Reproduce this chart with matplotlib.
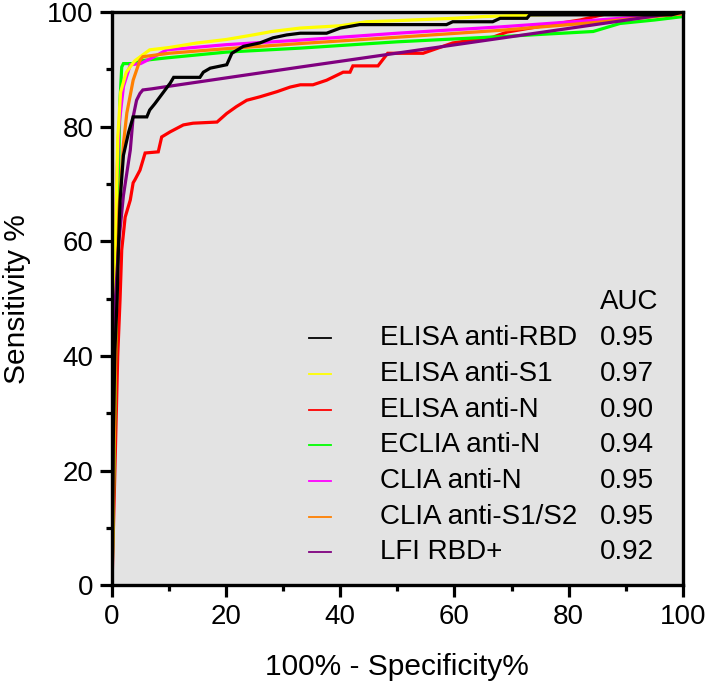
import matplotlib.pyplot as plt
from matplotlib.ticker import MultipleLocator

plt.rcParams['font.family'] = ['Liberation Sans', 'DejaVu Sans']

# ROC curves: x = 100% - Specificity%, y = Sensitivity %
rbd_x = [0, 0.2, 0.5, 0.9, 1.1, 1.4, 2.0, 2.9, 3.7, 6.1, 6.6, 7.5, 8.4, 9.3, 10.2, 10.8, 15.4, 16.0,
         17.2, 20.1, 21, 23, 25.9, 28.2, 30.6, 33, 37.6, 40, 43.4, 58.6, 59.7, 66.7, 68, 72.7, 73.2, 98, 100]
rbd_y = [0, 24, 41, 50, 58, 67, 75, 79, 81.7, 81.7, 82.9, 84, 85.2, 86.4, 87.6, 88.6, 88.6, 89.5,
         90.2, 90.8, 92.8, 94, 94.6, 95.5, 96, 96.3, 96.3, 97.2, 97.8, 97.8, 98.3, 98.3, 98.9, 98.9, 99.5, 99.5, 100]

s1_x = [0, 0.3, 0.6, 1.0, 1.5, 2.5, 4, 6.6, 10, 14.9, 20, 24.7, 28, 33, 40, 44.6, 50, 59.8, 65, 73.8, 80, 88, 100]
s1_y = [0, 30, 60, 78, 86, 89.5, 91.5, 93.4, 93.8, 94.6, 95.2, 96, 96.6, 97.2, 97.6, 98.3, 98.5, 98.9, 99.2,
        99.5, 99.6, 100, 100]

n_x = [0, 0.5, 1.0, 1.4, 1.7, 2.3, 3.2, 3.7, 4.0, 4.9, 5.8, 8.1, 8.7, 10.2, 12.5, 14.2, 18.4, 20.1, 21.8,
       23.6, 25.9, 28.9, 31.2, 33, 35.2, 37.6, 40.5, 41.7, 42.2, 46.6, 48.3, 54.5, 59.7, 66.7, 69.2, 76.2,
       82, 88, 100]
n_y = [0, 20, 40, 49.7, 58.5, 64.2, 67.2, 70.2, 70.7, 72.4, 75.4, 75.6, 78.2, 79.1, 80.3, 80.6, 80.8, 82.3,
       83.5, 84.6, 85.2, 86.1, 86.9, 87.3, 87.3, 88.1, 89.5, 89.5, 90.6, 90.6, 92.8, 92.8, 94.6, 95.6, 96.5,
       97.7, 98.6, 100, 100]

eclia_x = [0, 0.5, 0.9, 1.4, 1.7, 2.0, 3.7, 5, 9.6, 20, 33, 50, 68, 84.3, 89, 95, 100]
eclia_y = [0, 30, 60, 84.6, 90.4, 91, 91, 91.5, 92, 93, 93.7, 94.8, 95.7, 96.6, 98, 98.6, 99.2]

clia_x = [0, 0.1, 0.4, 0.8, 1.2, 2.0, 3.2, 5, 7, 9.6, 20, 33, 50, 68, 85, 100]
clia_y = [0, 35, 50, 70, 80, 87, 90.8, 91, 92, 93.4, 94.3, 95.1, 96.3, 97.4, 98.6, 99.7]

s1s2_x = [0, 0.3, 0.7, 1.2, 2.0, 2.6, 3.7, 4.9, 5.4, 10, 20, 33, 50, 68, 85, 100]
s1s2_y = [0, 20, 45, 65, 77, 82.4, 88.1, 91.6, 92.2, 92.8, 93.6, 94.5, 95.6, 96.8, 98.2, 99.7]

lfi_x = [0, 0.2, 0.6, 1.2, 2.0, 3.2, 3.7, 4.3, 4.9, 5.4, 7, 9, 33, 100]
lfi_y = [0, 38, 50, 60, 68, 75.9, 81.7, 84.6, 85.8, 86.4, 86.6, 86.9, 90.4, 100]

labels = ["ELISA anti-RBD", "ELISA anti-S1", "ELISA anti-N", "ECLIA anti-N",
          "CLIA anti-N", "CLIA anti-S1/S2", "LFI RBD+"]
auc = ["0.95", "0.97", "0.90", "0.94", "0.95", "0.95", "0.92"]
colors = ["#000000", "#ffff00", "#ff0000", "#00ff00", "#ff00ff", "#ff8000", "#800080"]
curves = [(rbd_x, rbd_y), (s1_x, s1_y), (n_x, n_y), (eclia_x, eclia_y),
          (clia_x, clia_y), (s1s2_x, s1s2_y), (lfi_x, lfi_y)]
zorders = [9, 5, 3, 4, 4.5, 7, 8]

fig = plt.figure(figsize=(7.09, 6.86), dpi=100)
ax = fig.add_axes([0.158, 0.147, 0.805, 0.8355])
ax.set_facecolor("#e3e3e3")

for (x, y), c, z in zip(curves, colors, zorders):
    ax.plot(x, y, color=c, lw=2.3, zorder=z, solid_joinstyle="miter")

ax.set_xlim(0, 100)
ax.set_ylim(0, 100)
ax.xaxis.set_major_locator(MultipleLocator(20))
ax.xaxis.set_minor_locator(MultipleLocator(10))
ax.yaxis.set_major_locator(MultipleLocator(20))
ax.yaxis.set_minor_locator(MultipleLocator(10))
ax.tick_params(which="major", length=8.5, width=2.3, labelsize=20, direction="out", pad=5)
ax.tick_params(which="minor", length=4.5, width=2.3, direction="out")
for s in ax.spines.values():
    s.set_linewidth(2.4)
    s.set_zorder(20)

ax.set_xlabel("100% - Specificity%", fontsize=21.5)
ax.set_ylabel("Sensitivity %", fontsize=21.5)
ax.xaxis.set_label_coords(0.5, -0.118)
ax.yaxis.set_label_coords(-0.142, 0.5)

# legend built by hand: short line, name, AUC column
row0 = 0.431
step = 0.0623
ax.text(0.855, 0.494, "AUC", transform=ax.transAxes, fontsize=20, va="center", ha="left")
for i, (lab, a, c) in enumerate(zip(labels, auc, colors)):
    yy = row0 - i * step
    ax.plot([0.345, 0.384], [yy, yy], color=c, lw=1.3, transform=ax.transAxes, zorder=10)
    ax.text(0.469, yy, lab, transform=ax.transAxes, fontsize=20, va="center", ha="left")
    ax.text(0.855, yy, a, transform=ax.transAxes, fontsize=20, va="center", ha="left")

fig.savefig("out.png", dpi=100)
